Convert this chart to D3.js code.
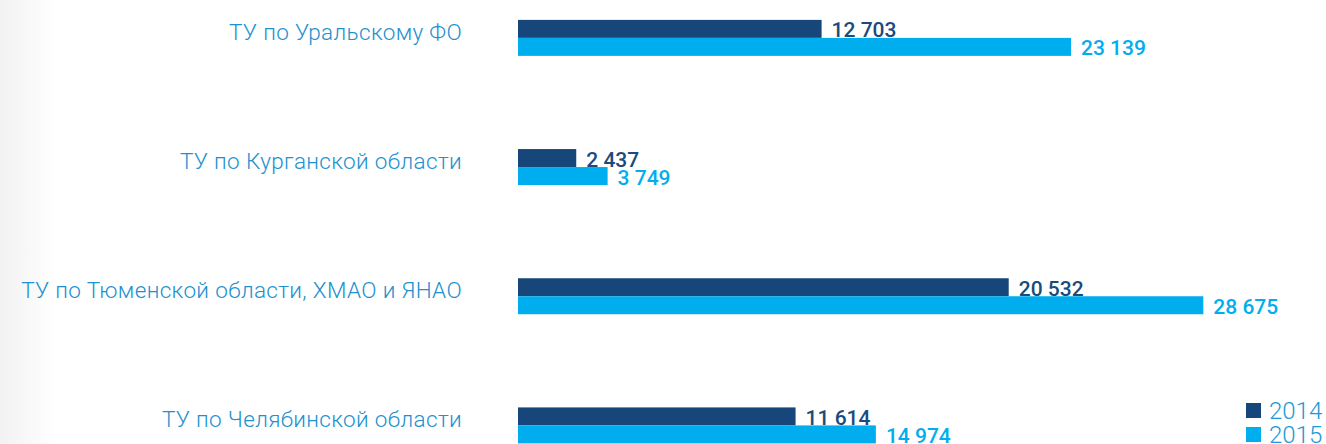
<!DOCTYPE html>
<html><head><meta charset="utf-8">
<script src="https://cdn.jsdelivr.net/npm/d3@7"></script>
<style>html,body{margin:0;padding:0;background:#fff;}svg{display:block;}</style>
</head><body>
<svg id="chart" width="1326" height="444"></svg>
<script>
const categories = ["ТУ по Уральскому ФО","ТУ по Курганской области","ТУ по Тюменской области, ХМАО и ЯНАО","ТУ по Челябинской области"];
const series2014 = [12703, 2437, 20532, 11614];
const series2015 = [23139, 3749, 28675, 14974];
const seriesNames = ["2014","2015"];
const colors = ["#17477a","#00aeef"];
const labelColors = ["#1b4a7c","#00aeef"];

const svg = d3.select("#chart");
const defs = svg.append("defs");
const g = defs.append("linearGradient").attr("id","lg").attr("x1","0").attr("x2","1").attr("y1","0").attr("y2","0");
g.append("stop").attr("offset","0").attr("stop-color","#f2f2f2");
g.append("stop").attr("offset","1").attr("stop-color","#ffffff");
svg.append("rect").attr("x",0).attr("y",0).attr("width",58).attr("height",444).attr("fill","url(#lg)");

const x = d3.scaleLinear().domain([0,30000]).range([518, 518+717]);
const y = d3.scaleBand().domain(categories).range([-26.7, 490]).paddingInner(0).paddingOuter(0);
const barH = 18;
const sub = d3.scaleBand().domain(seriesNames).range([-barH, barH]);

const data = categories.map((c,i)=>({c, vals:[series2014[i], series2015[i]]}));
const fmt = v => d3.format(",")(v).replace(/,/g," ");

const rows = svg.selectAll("g.row").data(data).join("g")
  .attr("transform", d=>`translate(0,${y(d.c)+y.bandwidth()/2})`);

rows.append("text").attr("x",462).attr("y",2).attr("text-anchor","end")
  .attr("font-family","Roboto").attr("font-weight",300).attr("font-size",22.5)
  .attr("letter-spacing",0.35)
  .attr("fill","#2190cd").text(d=>d.c);

seriesNames.forEach((s,k)=>{
  rows.append("rect").attr("x",x(0)).attr("y",sub(s))
    .attr("width",d=>x(d.vals[k])-x(0)).attr("height",sub.bandwidth())
    .attr("fill",colors[k]);
  rows.append("text").attr("x",d=>x(d.vals[k])+10).attr("y",sub(s)+sub.bandwidth()-0.5)
    .attr("font-family","Roboto").attr("font-weight",500).attr("font-size",21)
    .attr("fill",labelColors[k]).text(d=>fmt(d.vals[k]));
});

const leg = svg.append("g");
seriesNames.forEach((s,k)=>{
  leg.append("rect").attr("x",1246).attr("y",403+k*24).attr("width",15).attr("height",15).attr("fill",colors[k]);
  leg.append("text").attr("x",1269).attr("y",419+k*24).attr("font-family","Roboto").attr("font-weight",300)
    .attr("font-size",24).attr("fill","#1a9ad6").text(s);
});
</script>
</body></html>
